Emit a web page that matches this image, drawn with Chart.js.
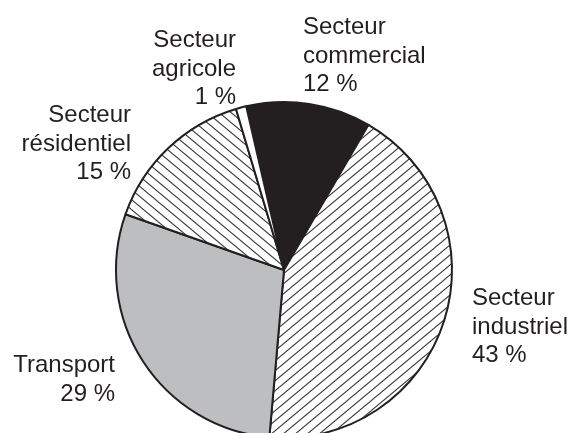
<!DOCTYPE html>
<html>
<head>
<meta charset="utf-8">
<script src="https://cdn.jsdelivr.net/npm/chart.js@4/dist/chart.umd.min.js"></script>
<style>
  html, body { margin: 0; padding: 0; background: #fff; overflow: hidden; }
  #wrap { width: 572px; height: 433px; overflow: hidden; }
</style>
</head>
<body>
<div id="wrap"><canvas id="myChart" width="572" height="540"></canvas></div>
<script>
// data, in drawing order (clockwise from the agricole/commercial boundary)
let categories = ["Secteur commercial", "Secteur industriel", "Transport", "Secteur résidentiel", "Secteur agricole"];
let labelLines = [
  ["Secteur", "commercial"],
  ["Secteur", "industriel"],
  ["Transport"],
  ["Secteur", "résidentiel"],
  ["Secteur", "agricole"]
];
let shares = [12, 43, 29, 15, 1];

// label placement relative to the pie centre
let labelOffsets = [
  { dx: 19, dy: -236, align: "left" },
  { dx: 188, dy: 35, align: "left" },
  { dx: -169, dy: 102, align: "right" },
  { dx: -153, dy: -148, align: "right" },
  { dx: -48, dy: -223, align: "right" }
];

const ink = "#231f20";

function hatch(dir) {
  let c = document.createElement("canvas");
  c.width = 12;
  c.height = 10;
  let g = c.getContext("2d");
  g.fillStyle = "#fff";
  g.fillRect(0, 0, 12, 10);
  g.strokeStyle = "#3a3a3a";
  g.lineWidth = 1.1;
  for (let k = -1; k <= 1; k++) {
    g.beginPath();
    if (dir == "/") {
      g.moveTo(-12, 20 + k * 10);
      g.lineTo(24, -10 + k * 10);
    } else {
      g.moveTo(-12, -10 + k * 10);
      g.lineTo(24, 20 + k * 10);
    }
    g.stroke();
  }
  return g.createPattern(c, "repeat");
}

let ctx = document.getElementById("myChart");

let fills = [ink, hatch("/"), "#bcbec0", hatch("\\"), "#ffffff"];

let outsideLabels = {
  id: "outsideLabels",
  afterDraw(chart) {
    let meta = chart.getDatasetMeta(0);
    let c = chart.ctx;
    c.save();
    c.fillStyle = ink;
    c.font = "24px 'Liberation Sans', Arial, sans-serif";
    c.textBaseline = "alphabetic";
    meta.data.forEach((arc, i) => {
      let o = labelOffsets[i];
      c.textAlign = o.align;
      let lines = labelLines[i].concat([shares[i] + " %"]);
      lines.forEach((t, j) => {
        c.fillText(t, arc.x + o.dx, arc.y + o.dy + j * 28.7);
      });
    });
    c.restore();
  }
};

let graphData = {
  type: "pie",
  data: {
    labels: categories,
    datasets: [
      {
        data: shares,
        backgroundColor: fills,
        borderColor: ink,
        borderWidth: 2,
        hoverOffset: 0
      }
    ]
  },
  options: {
    responsive: false,
    animation: false,
    rotation: -13,
    radius: 168,
    layout: { padding: { left: 0, right: 4, top: 0, bottom: 0 } },
    plugins: {
      legend: { display: false },
      tooltip: { enabled: false }
    },
    events: []
  },
  plugins: [outsideLabels]
};

let myChart = new Chart(ctx, graphData);
</script>
</body>
</html>
